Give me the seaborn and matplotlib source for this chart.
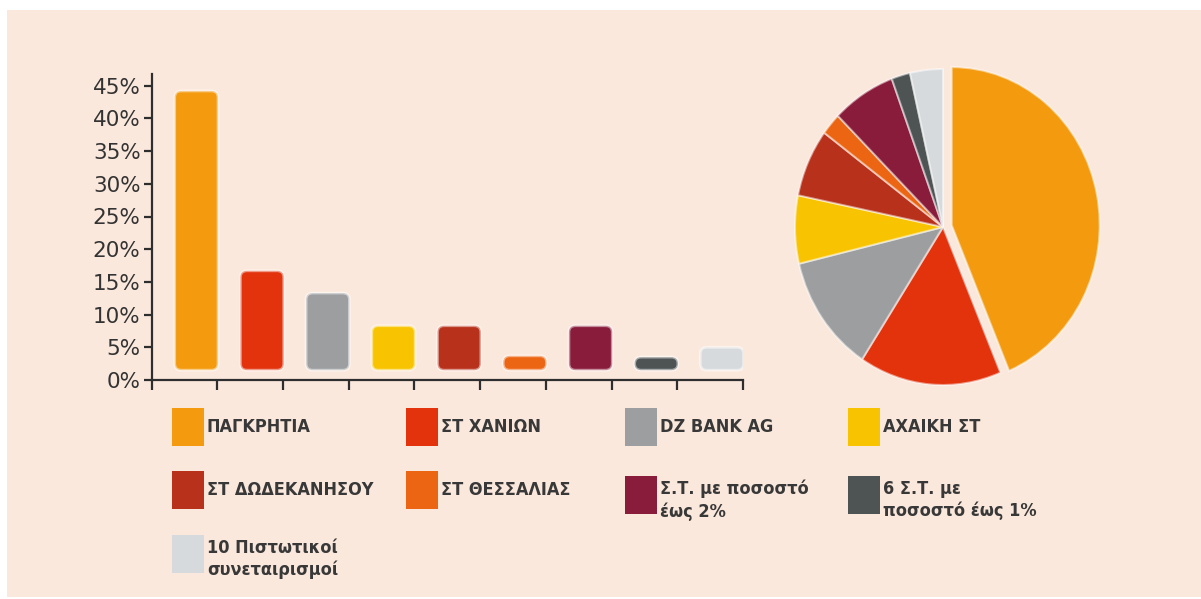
import numpy as np
import pandas as pd
import matplotlib
matplotlib.use("Agg")
import matplotlib.pyplot as plt
from matplotlib.patches import Rectangle, FancyBboxPatch
import seaborn as sns

# ---------------- data ----------------
categories = ["ΠΑΓΚΡΗΤΙΑ", "ΣΤ ΧΑΝΙΩΝ", "DZ BANK AG", "ΑΧΑΙΚΗ ΣΤ",
              "ΣΤ ΔΩΔΕΚΑΝΗΣΟΥ", "ΣΤ ΘΕΣΣΑΛΙΑΣ", "Σ.Τ. με ποσοστό\nέως 2%",
              "6 Σ.Τ. με\nποσοστό έως 1%", "10 Πιστωτικοί\nσυνεταιρισμοί"]
shares = [42.7, 15.2, 11.8, 6.8, 6.8, 2.2, 6.8, 2.0, 3.5]
colors = ["#F39A0E", "#E2330D", "#9C9EA0", "#F8C300", "#B8311B",
          "#EC6512", "#8A1C3B", "#4E5454", "#D6DADD"]
ytick_values = [0, 5, 10, 15, 20, 25, 30, 35, 40, 45]
ytick_labels = ["0%", "5%", "10%", "15%", "20%", "25%", "30%", "35%", "40%", "45%"]

BAR_BASE = 1.5  # bars float slightly above the axis in the original

df = pd.DataFrame({"cat": categories, "share": shares})

W, H = 1201, 599
fig = plt.figure(figsize=(W / 100, H / 100), dpi=100, facecolor="white")

# peach background panel
fig.patches.append(Rectangle((7 / W, 2 / H), 1 - 7 / W, (597 - 10) / H,
                             transform=fig.transFigure, facecolor="#FBE8DC",
                             edgecolor="none", zorder=-10))

sns.set_style("white")
plt.rcParams["font.family"] = ["DejaVu Sans"]

# ---------------- bar chart ----------------
axL = 151.7 / W
axR = 743 / W
axB = 1 - 380 / H
axT = 1 - 74 / H
ax = fig.add_axes([axL, axB, axR - axL, axT - axB])
ax.set_facecolor("none")

sns.barplot(data=df, x="cat", y="share", hue="cat", palette=colors,
            legend=False, ax=ax, width=0.66, bottom=BAR_BASE,
            saturation=1, edgecolor="none")

# round the bar corners
for p in list(ax.patches):
    x, y, w, h = p.get_x(), p.get_y(), p.get_width(), p.get_height()
    fc = p.get_facecolor()
    rp = FancyBboxPatch((x, y), w, h,
                        boxstyle="round,pad=0,rounding_size=0.1",
                        mutation_aspect=10.0, facecolor=fc,
                        edgecolor=(1, 1, 1, 0.5), linewidth=2.0, zorder=2)
    ax.add_patch(rp)
    p.remove()

ax.set_ylim(0, (380 - 74) / 6.54)
ax.set_xlim(-0.68, 8.32)
ax.set_xticks(np.arange(-0.68, 8.33, 1.0))
ax.set_xticklabels([])
ax.set_yticks(ytick_values)
ax.set_yticklabels(ytick_labels)
ax.set_xlabel("")
ax.set_ylabel("")
for s in ["top", "right"]:
    ax.spines[s].set_visible(False)
for s in ["left", "bottom"]:
    ax.spines[s].set_color("#2e2e2e")
    ax.spines[s].set_linewidth(1.6)
ax.tick_params(axis="y", direction="out", length=6, width=1.6, color="#2e2e2e",
               labelsize=15.5, labelcolor="#333333", pad=2, left=True)
ax.tick_params(axis="x", direction="out", length=7, width=1.6, color="#2e2e2e",
               bottom=True)

# ---------------- pie chart ----------------
cx, cy, rx, ry = 943, 227, 148, 158
lim = 1.15
pw, ph = 2 * lim * rx, 2 * lim * ry
axp = fig.add_axes([(cx - pw / 2) / W, 1 - (cy + ph / 2) / H, pw / W, ph / H])
axp.set_facecolor("none")
explode = [0.06] + [0] * (len(shares) - 1)
axp.pie(shares, colors=colors, startangle=90, counterclock=False,
        explode=explode,
        wedgeprops={"linewidth": 1.5, "edgecolor": (1, 1, 1, 0.5)})
axp.set_aspect("auto")
axp.set_xlim(-lim, lim)
axp.set_ylim(-lim, lim)
axp.axis("off")

# ---------------- legend ----------------
col_left = [172, 406, 625, 848]
row_top = [[408, 471, 535], [408, 471, 535], [408, 476, 535], [408, 476, 535]]
order = [(0, 0), (1, 0), (2, 0), (3, 0), (0, 1), (1, 1), (2, 1), (3, 1), (0, 2)]
pw_, ph_ = 32, 38
for i, (c, r) in enumerate(order):
    x0 = col_left[c]
    y0 = row_top[c][r]
    fig.patches.append(Rectangle((x0 / W, 1 - (y0 + ph_) / H), pw_ / W, ph_ / H,
                                 transform=fig.transFigure, facecolor=colors[i],
                                 edgecolor="none"))
    lab = categories[i]
    yc = y0 + ph_ / 2 + (5 if "\n" in lab else 0)
    fig.text((x0 + pw_ + 3) / W, 1 - yc / H, lab, ha="left", va="center",
             fontsize=13, color="#383838", family="DejaVu Sans",
             stretch="condensed", weight="bold", linespacing=1.3)

fig.savefig("out.png", dpi=100, facecolor=fig.get_facecolor())
